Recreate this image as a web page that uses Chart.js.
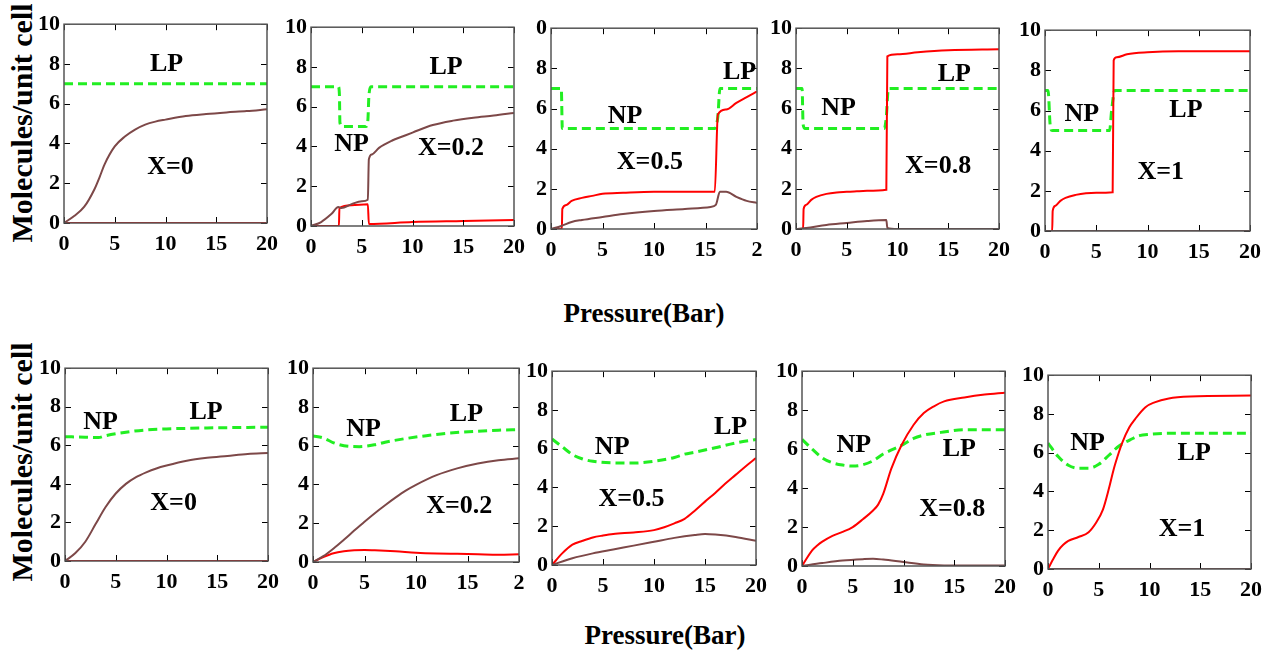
<!DOCTYPE html>
<html lang="en">
<head>
<meta charset="UTF-8">
<title>Molecules per unit cell vs pressure</title>
<script src="https://cdn.jsdelivr.net/npm/chart.js"></script>
<style>
  body {
    margin: 0;
    background: #fff;
    width: 1283px;
    height: 653px;
    overflow: hidden;
    position: relative;
    font-family: "Liberation Serif", "DejaVu Serif", serif;
  }
  canvas { position: absolute; }
  .ytitle {
    position: absolute;
    font-weight: bold;
    font-size: 30px;
    white-space: nowrap;
    transform: translate(-50%, -50%) rotate(-90deg);
  }
  .xtitle {
    position: absolute;
    font-weight: bold;
    font-size: 27px;
    white-space: nowrap;
    transform: translate(-50%, -50%);
  }
</style>
</head>
<body>
<div class="ytitle" style="left:22px; top:123px;">Molecules/unit cell</div>
<div class="ytitle" style="left:22px; top:462px;">Molecules/unit cell</div>
<div class="xtitle" style="left:644px; top:313px;">Pressure(Bar)</div>
<div class="xtitle" style="left:665px; top:635px;">Pressure(Bar)</div>

<script>
// tick labels (some are cut off in the original figure)
const xLabels = ['0', '5', '10', '15', '20'];
const xLabelsCut = ['0', '5', '10', '15', '2'];
const yLabels = ['0', '2', '4', '6', '8', '10'];
const yLabelsCut = ['0', '2', '4', '6', '8', '0'];

// ---- top row: step-like adsorption ----
const t1Brown = [[0,0],[1,0.35],[2,0.82],[3,1.7],[3.5,2.3],[4,2.95],[5,3.85],[6,4.35],[7,4.7],[8,4.95],[9,5.1],[10,5.2],[12,5.38],[14,5.48],[16,5.56],[18,5.63],[20,5.72]];
const t1Red = [[0,0],[20,0]];
const t1Green = [[0,7],[20,7]];

const t2Brown = [[0,0],[1,0.2],[2,0.6],[2.7,0.95],[3,0.9],[4,1.1],[5,1.25],[5.6,1.32],[5.7,3.35],[6,3.6],[6.7,3.93],[8,4.3],[9,4.5],[10,4.7],[12,5.08],[14,5.3],[16,5.45],[18,5.56],[20,5.69]];
const t2Red = [[0,0],[2.75,0],[2.8,0.9],[4,1.05],[5.6,1.1],[5.7,0.1],[10,0.2],[15,0.25],[20,0.3]];
const t2Green = [[0,7],[2.7,7],[2.8,6.6],[2.85,5.2],[3.1,5],[5.4,5],[5.6,5.3],[5.7,6.5],[5.9,7],[20,7]];

const t3Brown = [[0,0],[1,0.15],[2,0.35],[3,0.45],[5,0.6],[7,0.75],[10,0.9],[13,1.0],[15.5,1.1],[16,1.2],[16.4,1.85],[17,1.85],[18,1.6],[19,1.4],[20,1.3]];
const t3Red = [[0,0],[1.05,0],[1.1,1],[1.5,1.2],[2,1.4],[3,1.55],[4,1.65],[5,1.75],[7,1.8],[10,1.85],[15.9,1.85],[16.2,5.7],[17,5.95],[18,6.28],[19,6.57],[20,6.85]];
const t3Green = [[0,7],[1,7],[1.1,5],[15.9,5],[16.2,5.6],[16.4,7],[20,7]];

const t4Brown = [[0,0],[1,0.05],[3,0.2],[5,0.3],[7,0.4],[8.9,0.45],[9,0.05],[10,0],[20,0]];
const t4Red = [[0,0],[0.7,0],[0.75,1.0],[1,1.2],[1.5,1.45],[2,1.6],[3,1.75],[4,1.82],[5,1.85],[6,1.88],[7,1.9],[8.9,1.95],[9,8.6],[10,8.7],[12,8.8],[15,8.9],[20,8.95]];
const t4Green = [[0,7],[0.6,7],[0.7,5.2],[0.9,5],[8.7,5],[8.9,5.6],[9.1,7],[20,7]];

const t5Brown = [[0,0],[20,0]];
const t5Red = [[0,0],[0.7,0],[0.75,1.0],[1,1.25],[1.5,1.5],[2,1.65],[3,1.8],[4,1.88],[5,1.9],[6.6,1.93],[6.7,8.5],[7,8.65],[8,8.8],[10,8.9],[13,8.95],[20,8.95]];
const t5Green = [[0,7],[0.3,7],[0.5,5.3],[0.7,5],[6.3,5],[6.5,6],[6.8,7],[20,7]];

// ---- bottom row: smooth adsorption ----
const b1Brown = [[0,0],[1,0.4],[2,1.0],[3,1.9],[4,2.8],[5,3.5],[6,4.0],[7,4.35],[8,4.6],[9,4.8],[10,4.95],[12,5.2],[14,5.35],[16,5.45],[18,5.55],[20,5.6]];
const b1Red = [[0,0],[20,0]];
const b1Green = [[0,6.45],[2,6.42],[3.3,6.4],[4,6.5],[6,6.68],[8,6.8],[10,6.85],[14,6.9],[20,6.94]];

const b2Brown = [[0,0],[1,0.3],[2,0.7],[3,1.15],[4,1.62],[5,2.08],[6,2.52],[7,2.93],[8,3.32],[9,3.68],[10,3.98],[12,4.48],[14,4.83],[16,5.08],[18,5.25],[20,5.35]];
const b2Red = [[0,0],[1,0.25],[2,0.45],[3,0.55],[4,0.6],[5,0.62],[6,0.6],[8,0.55],[10,0.48],[12,0.44],[14,0.42],[16,0.4],[18,0.38],[20,0.4]];
const b2Green = [[0,6.5],[1,6.4],[2,6.15],[3,6.0],[4.5,5.95],[6,6.05],[7,6.18],[9,6.37],[11,6.52],[13,6.64],[16,6.75],[18,6.8],[20,6.83]];

const b3Brown = [[0,0],[2,0.35],[4,0.6],[6,0.8],[8,1.0],[10,1.2],[12,1.4],[14,1.55],[15,1.6],[16,1.57],[18,1.45],[20,1.25]];
const b3Red = [[0,0],[1,0.6],[2,1.05],[3,1.25],[4,1.42],[5,1.52],[6,1.6],[8,1.68],[10,1.8],[11,1.95],[12,2.15],[13,2.38],[14,2.8],[15,3.27],[16,3.72],[17,4.2],[18,4.65],[19,5.1],[20,5.52]];
const b3Green = [[0,6.5],[1,6.1],[2,5.7],[3,5.47],[4,5.35],[6,5.27],[8,5.26],[10,5.35],[12,5.55],[13,5.72],[14,5.82],[16,6.05],[18,6.3],[20,6.48]];

const b4Brown = [[0,0],[2,0.15],[4,0.28],[6,0.35],[7,0.37],[8,0.33],[10,0.2],[12,0.08],[14,0.03],[16,0.02],[20,0.02]];
const b4Red = [[0,0],[1,0.8],[1.5,1.05],[2,1.25],[3,1.55],[4,1.75],[5,2.0],[6,2.4],[7,2.85],[7.5,3.15],[8,3.7],[8.8,5.0],[9.8,6.2],[11,7.25],[12,7.85],[13,8.2],[14,8.45],[16,8.65],[18,8.8],[20,8.9]];
const b4Green = [[0,6.5],[1,6.0],[2,5.55],[3,5.3],[4,5.18],[5,5.13],[6,5.2],[7,5.4],[8,5.75],[9,6.0],[9.8,6.19],[11,6.55],[12,6.72],[13.7,6.86],[16,7.0],[20,7.0]];

const b5Brown = [[0,0],[20,0]];
const b5Red = [[0,0],[0.5,0.5],[1,0.95],[1.5,1.25],[2,1.45],[3,1.65],[4,1.9],[4.75,2.4],[5.4,3.05],[6,4.15],[6.5,5.2],[7,6.05],[7.3,6.5],[8,7.3],[8.6,7.75],[9.6,8.35],[10.5,8.6],[11.9,8.8],[14,8.9],[20,8.95]];
const b5Green = [[0,6.5],[1,5.8],[2,5.35],[3,5.2],[4,5.2],[5,5.4],[6,5.87],[7,6.35],[8.3,6.72],[9,6.88],[10,6.95],[12,7.0],[20,7.0]];

// text labels inside the panels: [text, x, y] in data units
const t1Notes = [['LP', 10.1, 8.0], ['X=0', 10.5, 2.8]];
const t2Notes = [['LP', 13.3, 8.0], ['NP', 4.0, 4.1], ['X=0.2', 13.8, 3.9]];
const t3Notes = [['LP', 18.3, 7.8], ['NP', 7.2, 5.6], ['X=0.5', 9.6, 3.3]];
const t4Notes = [['LP', 15.6, 7.7], ['NP', 4.2, 6.0], ['X=0.8', 14.0, 3.1]];
const t5Notes = [['LP', 13.75, 6.0], ['NP', 3.6, 5.8], ['X=1', 11.3, 2.9]];
const b1Notes = [['LP', 13.9, 7.7], ['NP', 3.5, 7.2], ['X=0', 10.7, 3.0]];
const b2Notes = [['LP', 14.9, 7.6], ['NP', 4.9, 6.85], ['X=0.2', 14.2, 2.85]];
const b3Notes = [['LP', 17.5, 7.1], ['NP', 5.9, 6.1], ['X=0.5', 7.8, 3.4]];
const b4Notes = [['LP', 15.5, 6.0], ['NP', 5.1, 6.2], ['X=0.8', 14.8, 2.9]];
const b5Notes = [['LP', 14.4, 5.95], ['NP', 3.9, 6.5], ['X=1', 13.2, 2.05]];

const FONT = '"Liberation Serif", "DejaVu Serif", serif';
const YW = 52, XH = 36, PT = 14, PR = 16;

// box, inward ticks on all sides, and the in-panel labels
const frame = {
  id: 'frame',
  afterDraw(chart, args, opts) {
    const { ctx, chartArea: a } = chart;
    const x = chart.scales.x, y = chart.scales.y;
    ctx.save();
    ctx.strokeStyle = '#000';
    ctx.lineWidth = 1;
    x.ticks.forEach(t => {
      const px = Math.round(x.getPixelForValue(t.value)) + 0.5;
      ctx.beginPath();
      ctx.moveTo(px, a.bottom); ctx.lineTo(px, a.bottom - 6);
      ctx.moveTo(px, a.top); ctx.lineTo(px, a.top + 6);
      ctx.stroke();
    });
    y.ticks.forEach(t => {
      const py = Math.round(y.getPixelForValue(t.value)) + 0.5;
      ctx.beginPath();
      ctx.moveTo(a.left, py); ctx.lineTo(a.left + 6, py);
      ctx.moveTo(a.right, py); ctx.lineTo(a.right - 6, py);
      ctx.stroke();
    });
    ctx.strokeStyle = '#555';
    ctx.lineWidth = 1.5;
    ctx.strokeRect(a.left, a.top, a.right - a.left, a.bottom - a.top);
    ctx.fillStyle = '#000';
    ctx.font = 'bold 26px ' + FONT;
    ctx.textAlign = 'center';
    ctx.textBaseline = 'middle';
    opts.notes.forEach(([txt, nx, ny]) => {
      ctx.fillText(txt, x.getPixelForValue(nx), y.getPixelForValue(ny));
    });
    ctx.restore();
  }
};

const pts = arr => arr.map(([x, y]) => ({ x, y }));

function panel(box, brown, red, green, notes, xl, yl) {
  const [L, T, R, B] = box;
  const cv = document.createElement('canvas');
  cv.width = YW + (R - L) + PR;
  cv.height = PT + (B - T) + XH;
  cv.style.left = (L - YW) + 'px';
  cv.style.top = (T - PT) + 'px';
  document.body.appendChild(cv);
  const tickFont = { family: FONT, size: 22, weight: 'bold' };
  new Chart(cv, {
    type: 'line',
    data: {
      datasets: [
        { data: pts(brown), borderColor: '#7d4848', borderWidth: 2 },
        { data: pts(red), borderColor: '#ff0000', borderWidth: 2 },
        { data: pts(green), borderColor: '#22ee22', borderWidth: 3, borderDash: [9, 5] }
      ]
    },
    options: {
      responsive: false,
      animation: false,
      layout: { padding: { top: PT, right: PR, left: 0, bottom: 0 } },
      elements: { point: { radius: 0 }, line: { cubicInterpolationMode: 'monotone' } },
      plugins: { legend: { display: false }, tooltip: { enabled: false }, frame: { notes } },
      scales: {
        x: {
          type: 'linear', min: 0, max: 20,
          grid: { display: false, drawTicks: false },
          border: { display: false },
          ticks: { stepSize: 5, color: '#000', font: tickFont, padding: 8, maxRotation: 0, autoSkip: false,
                   callback: (v, i) => xl[i] },
          afterFit(s) { s.height = XH; }
        },
        y: {
          min: 0, max: 10,
          grid: { display: false, drawTicks: false },
          border: { display: false },
          ticks: { stepSize: 2, color: '#000', font: tickFont, padding: 4, autoSkip: false,
                   callback: (v, i) => yl[i] },
          afterFit(s) { s.width = YW; }
        }
      }
    },
    plugins: [frame]
  });
}

panel([64, 21, 270, 223], t1Brown, t1Red, t1Green, t1Notes, xLabels, yLabels);
panel([311, 24, 517, 226], t2Brown, t2Red, t2Green, t2Notes, xLabels, yLabels);
panel([551, 25, 757, 229], t3Brown, t3Red, t3Green, t3Notes, xLabelsCut, yLabelsCut);
panel([796, 25, 1002, 229], t4Brown, t4Red, t4Green, t4Notes, xLabels, yLabels);
panel([1045, 27, 1253, 231], t5Brown, t5Red, t5Green, t5Notes, xLabels, yLabels);

panel([65, 365, 271, 561], b1Brown, b1Red, b1Green, b1Notes, xLabels, yLabels);
panel([313, 365, 519, 562], b2Brown, b2Red, b2Green, b2Notes, xLabelsCut, yLabels);
panel([552, 368, 759, 565], b3Brown, b3Red, b3Green, b3Notes, xLabels, yLabels);
panel([802, 368, 1008, 566], b4Brown, b4Red, b4Green, b4Notes, xLabels, yLabels);
panel([1048, 372, 1254, 569], b5Brown, b5Red, b5Green, b5Notes, xLabels, yLabels);
</script>
</body>
</html>
